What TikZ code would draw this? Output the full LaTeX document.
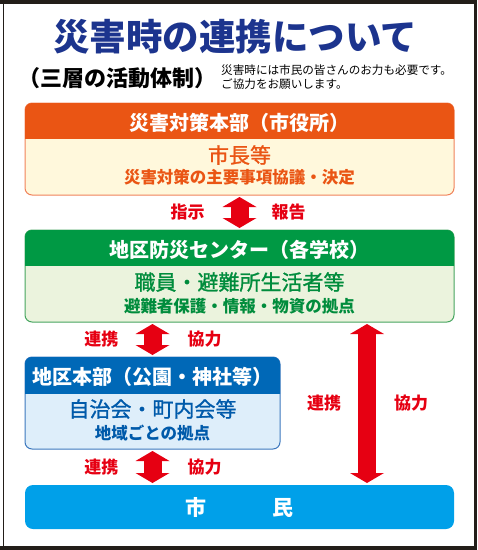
\documentclass[tikz,border=0pt]{standalone}
\usepackage{fontspec}
\newfontfamily\jp{Noto Sans CJK JP}
\newfontfamily\jpmed[FakeBold=1.2]{Noto Sans CJK JP}
\usepackage{tikz}
\usetikzlibrary{positioning,arrows.meta,calc}
\usepackage{xcolor}
\definecolor{framecol}{RGB}{35,30,25}
\definecolor{titleblue}{RGB}{28,52,142}
\definecolor{hqorange}{RGB}{234,85,20}
\definecolor{hqbody}{RGB}{255,248,220}
\definecolor{hqline}{RGB}{240,130,90}
\definecolor{ctrgreen}{RGB}{0,153,68}
\definecolor{ctrbody}{RGB}{235,243,221}
\definecolor{ctrline}{RGB}{70,165,95}
\definecolor{ctrtext}{RGB}{0,140,60}
\definecolor{locblue}{RGB}{0,104,183}
\definecolor{locbody}{RGB}{222,238,250}
\definecolor{locline}{RGB}{60,120,190}
\definecolor{loctext}{RGB}{0,90,170}
\definecolor{citblue}{RGB}{0,160,233}
\definecolor{arrowred}{RGB}{230,0,18}
\newcommand{\jpsize}[1]{\fontsize{#1}{#1}\selectfont}

\begin{document}
\begin{tikzpicture}[x=1pt,y=-1pt,font=\jp,
  box/.style={rounded corners=7pt,line width=1pt,minimum width=429pt,minimum height=92pt,inner sep=0pt,outer sep=0pt},
  headtxt/.style={text=white,font=\jp\bfseries\jpsize{20}},
  maintxt/.style={font=\jpmed\jpsize{21}},
  subtxt/.style={font=\jp\bfseries\jpsize{16.5}},
  notetxt/.style={font=\jp\jpsize{11.6},anchor=west,inner sep=0pt},
  lbl/.style={text=arrowred,font=\jp\bfseries\jpsize{17},inner sep=0pt},
  redarrow/.style={draw=arrowred,line width=18pt,shorten <=2pt,shorten >=2pt,
    {Triangle[width=34pt,length=10pt,line width=0pt 0 0]}-{Triangle[width=34pt,length=10pt,line width=0pt 0 0]}}]
\useasboundingbox (0,0) rectangle (478,550);
% frame
\draw[framecol,line width=4pt] (0,2) -- (476,2);
\draw[framecol,line width=1.6pt] (3.5,0) -- (3.5,550);
\draw[framecol,line width=3pt] (475.8,0) -- (475.8,550);
\draw[framecol,line width=4pt] (0,548) -- (476,548);
% title
\node[font=\jp\bfseries\jpsize{36.5},text=titleblue] (title) at (235,37) {災害時の連携について};
\node[font=\jp\bfseries\jpsize{22}] (subtitle) at (117.5,78) {（三層の活動体制）};
\node[notetxt] (note1) at (221,70.5) {災害時には市民の皆さんのお力も必要です。};
\node[notetxt] (note2) at (221,84.5) {ご協力をお願いします。};
% top: city office
\node[box,draw=hqline,fill=hqbody] (hq) at (239.5,149) {};
\begin{scope}
\clip (hq.north west) rectangle ([yshift=-35pt]hq.north east);
\fill[hqorange,rounded corners=7pt] (hq.south west) rectangle (hq.north east);
\end{scope}
\node[headtxt] (hqhead) at ([yshift=-20pt]hq.north) {災害対策本部（市役所）};
\node[maintxt,text=hqorange] (hqmain) at ([yshift=-52pt]hq.north) {市長等};
\node[subtxt,text=hqorange] (hqsub) at ([yshift=-74pt]hq.north) {災害対策の主要事項協議・決定};
% middle: district centre
\node[box,draw=ctrline,fill=ctrbody] (ctr) at (239.5,276) {};
\begin{scope}
\clip (ctr.north west) rectangle ([yshift=-35pt]ctr.north east);
\fill[ctrgreen,rounded corners=7pt] (ctr.south west) rectangle (ctr.north east);
\end{scope}
\node[headtxt] (ctrhead) at ([yshift=-19.5pt]ctr.north) {地区防災センター（各学校）};
\node[maintxt,text=ctrtext] (ctrmain) at ([yshift=-52pt]ctr.north) {職員・避難所生活者等};
\node[subtxt,text=ctrtext] (ctrsub) at ([yshift=-76pt]ctr.north) {避難者保護・情報・物資の拠点};
% lower: district headquarters
\node[box,draw=locline,fill=locbody,minimum width=255pt] (loc) at (152.5,403) {};
\begin{scope}
\clip (loc.north west) rectangle ([yshift=-36pt]loc.north east);
\fill[locblue,rounded corners=7pt] (loc.south west) rectangle (loc.north east);
\end{scope}
\node[headtxt] (lochead) at ([yshift=-20pt]loc.north) {地区本部（公園・神社等）};
\node[maintxt,text=loctext] (locmain) at ([yshift=-52pt]loc.north) {自治会・町内会等};
\node[subtxt,text=loctext] (locsub) at ([yshift=-76pt]loc.north) {地域ごとの拠点};
% bottom: citizens
\node[box,fill=citblue,minimum height=44pt,rounded corners=8pt] (cit) at (239.5,507) {};
\node[headtxt,font=\jp\bfseries\jpsize{21}] (cittxt) at (cit) {市\hspace{66pt}民};
% arrows
\coordinate (rt) at (367,0);
\draw[redarrow] (hq.south) -- node[lbl,left=26pt] (shiji) {指示} node[lbl,right=23pt] (hokoku) {報告} (ctr.north);
\draw[redarrow] (loc.north |- ctr.south) -- node[lbl,left=25pt] (renkei1) {連携} node[lbl,right=26pt] (kyoryoku1) {協力} (loc.north);
\draw[redarrow] (loc.south) -- node[lbl,left=25pt] (renkei2) {連携} node[lbl,right=26pt] (kyoryoku2) {協力} (loc.south |- cit.north);
\draw[redarrow] (rt |- ctr.south) -- node[lbl,left=17pt] (renkei3) {連携} node[lbl,right=18pt] (kyoryoku3) {協力} (rt |- cit.north);
\end{tikzpicture}
\end{document}
